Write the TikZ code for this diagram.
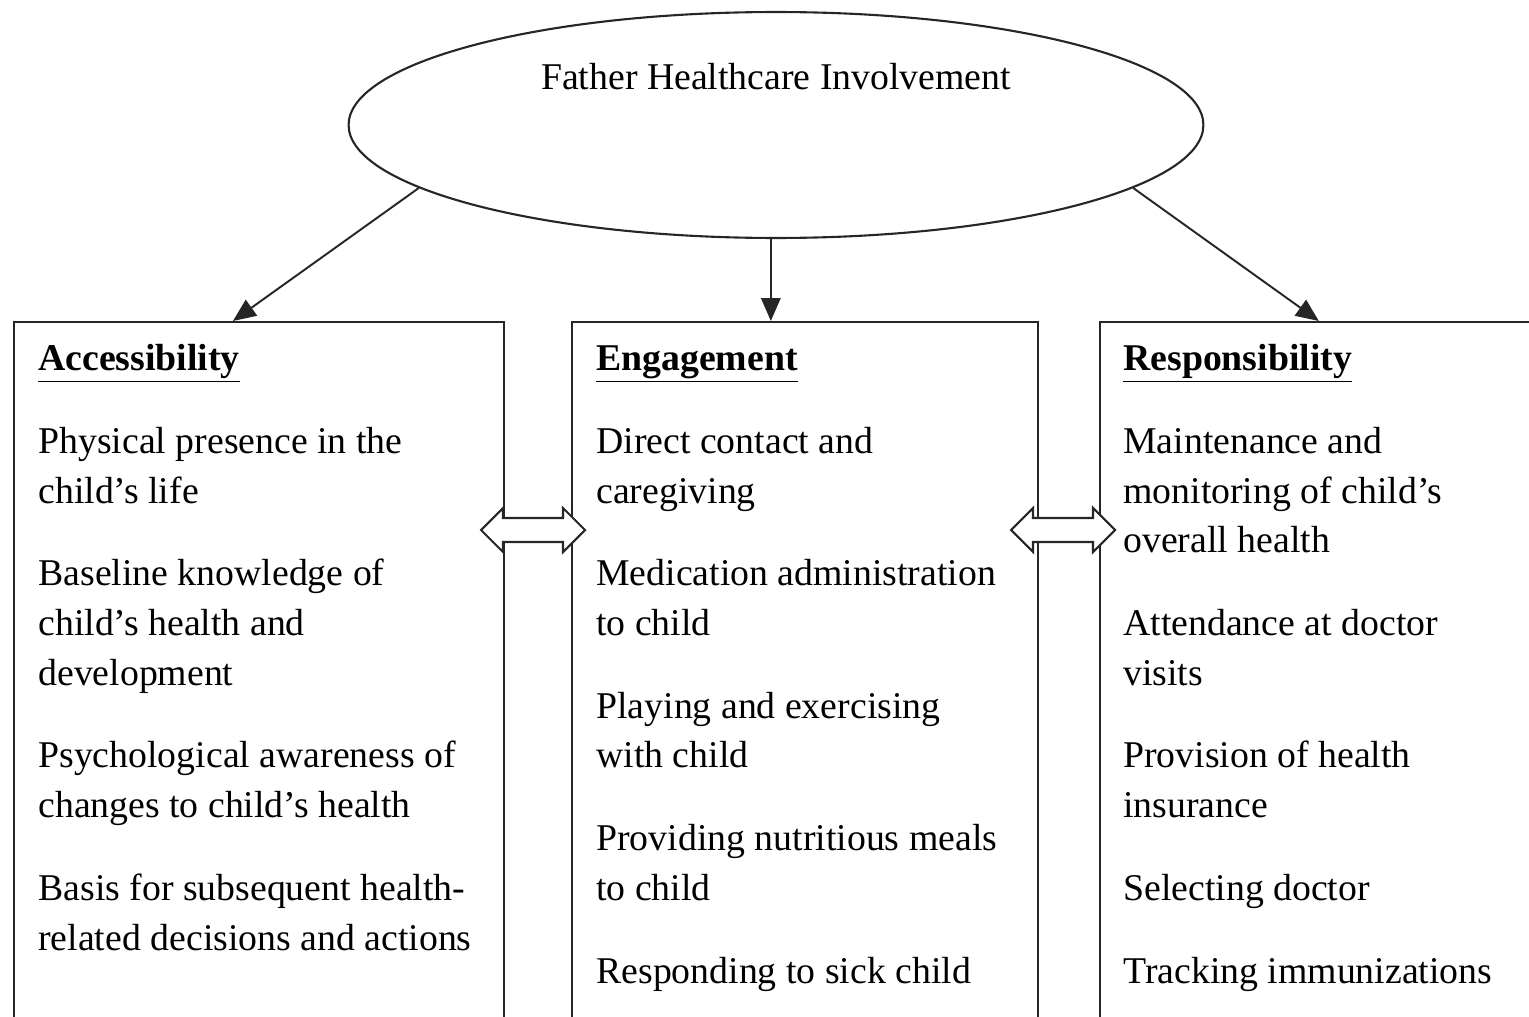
\documentclass[tikz,border=0pt]{standalone}
\usepackage{fontspec}
\setmainfont{Liberation Serif}
\usetikzlibrary{
    shapes.geometric,
    arrows.meta,
    calc,
    positioning
}

\tikzset{
    every node/.style={font=\fontsize{21.5pt}{28.35pt}\selectfont},
    outline/.style={draw=black!85, line width=1.2pt},
    colbox/.style={outline, rectangle, anchor=north west, minimum height=15cm, inner sep=0pt},
    coltext/.style={align=left, inner sep=0pt},
    flow/.style={draw=black!85, line width=1.1pt, -{Triangle[length=13pt,width=11pt]}},
    dblarrow/.style={outline, fill=white}
}
\newcommand{\itemgap}{\\[18.7pt]}
\newcommand{\colhead}[1]{\vphantom{Ab}\underline{\textbf{#1}}}

\begin{document}
\begin{tikzpicture}[x=0.02cm, y=-0.02cm]
\useasboundingbox (0,0) rectangle (1529,1017);
\clip (0,0) rectangle (1529,1017);

% top construct
\node[outline, ellipse, minimum width=17.1cm, minimum height=4.52cm, inner sep=0pt] (fhi) at (776,125) {};
\node[below=1.04cm of fhi.north, inner sep=0pt] (fhititle) {Father Healthcare Involvement};

% the three domains
\node[colbox, minimum width=9.8cm] (acc) at (13,321) {};
\node[colbox, minimum width=9.32cm] (eng) at (571,321) {};
\node[colbox, minimum width=10cm] (resp) at (1099,321) {};

\node[coltext, below right=0.46cm and 0.5cm of acc.north west] (acctext) {\colhead{Accessibility}\itemgap
Physical presence in the\\child's life\itemgap
Baseline knowledge of\\child's health and\\development\itemgap
Psychological awareness of\\changes to child's health\itemgap
Basis for subsequent health-\\related decisions and actions};

\node[coltext, below right=0.46cm and 0.5cm of eng.north west] (engtext) {\colhead{Engagement}\itemgap
Direct contact and\\caregiving\itemgap
Medication administration\\to child\itemgap
Playing and exercising\\with child\itemgap
Providing nutritious meals\\to child\itemgap
Responding to sick child};

\node[coltext, below right=0.46cm and 0.48cm of resp.north west] (resptext) {\colhead{Responsibility}\itemgap
Maintenance and\\monitoring of child's\\overall health\itemgap
Attendance at doctor\\visits\itemgap
Provision of health\\insurance\itemgap
Selecting doctor\itemgap
Tracking immunizations};

% arrows down from the construct
\coordinate (accin) at ($(acc.north west)!0.447!(acc.north east)$);
\coordinate (engin) at ($(eng.north west)!0.427!(eng.north east)$);
\coordinate (respin) at ($(resp.north west)!0.438!(resp.north east)$);
\draw[flow] (fhi.190) -- (accin);
\draw[flow] (engin |- fhi.south) -- (engin);
\draw[flow] (fhi.350) -- (respin);

% links between the domains
\coordinate (aelink) at ($(acc.north east)!0.5!(eng.north west)+(-5,209)$);
\coordinate (erlink) at ($(eng.north east)!0.5!(resp.north west)+(-6,209)$);
\foreach \lnk in {aelink, erlink}
    \draw[dblarrow, shift={(\lnk)}] (-52,0) -- (-30,-22) -- (-30,-12) -- (30,-12) -- (30,-22)
        -- (52,0) -- (30,22) -- (30,12) -- (-30,12) -- (-30,22) -- cycle;
\end{tikzpicture}
\end{document}
